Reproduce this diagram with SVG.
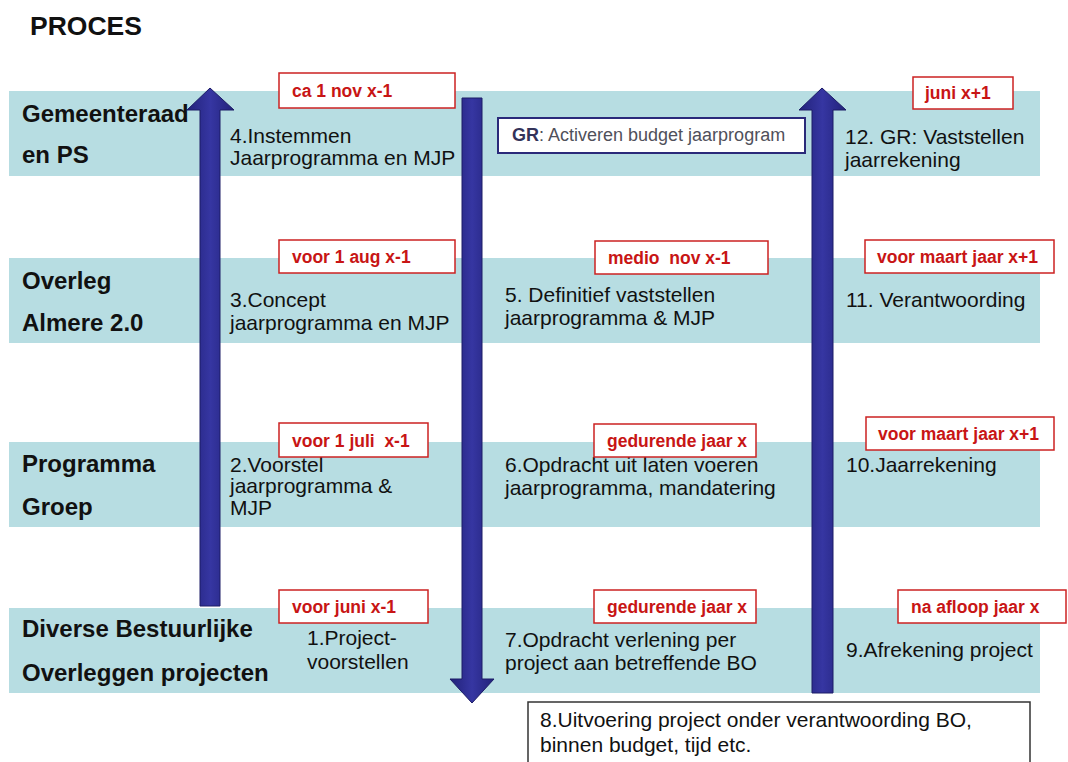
<svg xmlns="http://www.w3.org/2000/svg" width="1068" height="762" viewBox="0 0 1068 762">
<defs>
<linearGradient id="ag" x1="0" y1="0" x2="1" y2="0">
<stop offset="0" stop-color="#22227a"/>
<stop offset="0.5" stop-color="#3636a2"/>
<stop offset="1" stop-color="#22227a"/>
</linearGradient>
<style>
.band{fill:#b7dde2}
.lbl{font-family:"Liberation Sans",Arial,sans-serif;font-weight:bold;font-size:24px;fill:#111}
.txt{font-family:"Liberation Sans",Arial,sans-serif;font-size:21px;fill:#111}
.rbox{fill:#fff;stroke:#cc2222;stroke-width:1.5}
.rtxt{font-family:"Liberation Sans",Arial,sans-serif;font-weight:bold;font-size:17.5px;fill:#c81515;white-space:pre}
.arrow{fill:url(#ag);stroke:#1c1c66;stroke-width:1}
</style>
</defs>
<rect width="1068" height="762" fill="#fff"/>
<text x="30" y="35" font-family="Liberation Sans,Arial,sans-serif" font-weight="bold" font-size="26.5" fill="#111">PROCES</text>

<g id="bands">
<rect class="band" x="9" y="91" width="1031" height="85"/>
<rect class="band" x="9" y="258" width="1031" height="85"/>
<rect class="band" x="9" y="442" width="1031" height="85"/>
<rect class="band" x="9" y="608" width="1031" height="85"/>
</g>

<g id="lane-gemeenteraad"><text class="lbl" x="22" y="122">Gemeenteraad</text><text class="lbl" x="22" y="163">en PS</text></g>
<g id="lane-overleg"><text class="lbl" x="22" y="289">Overleg</text><text class="lbl" x="22" y="331">Almere 2.0</text></g>
<g id="lane-programma"><text class="lbl" x="22" y="472">Programma</text><text class="lbl" x="22" y="515">Groep</text></g>
<g id="lane-diverse"><text class="lbl" x="22" y="637">Diverse Bestuurlijke</text><text class="lbl" x="22" y="681">Overleggen projecten</text></g>

<g id="connectors">
<path class="arrow" d="M200,606 L200,110 L187,110 L210,88 L234,110 L220,110 L220,606 Z"/>
<path class="arrow" d="M462,98 L482,98 L482,679 L494,679 L472,703 L450,679 L462,679 Z"/>
<path class="arrow" d="M812,693 L812,110 L799,110 L822,88 L846,110 L833,110 L833,693 Z"/>
</g>

<g id="step1"><text class="txt" x="307" y="645">1.Project-</text><text class="txt" x="307" y="669">voorstellen</text></g>
<g id="step2"><text class="txt" x="230" y="472">2.Voorstel</text><text class="txt" x="230" y="493">jaarprogramma &amp;</text><text class="txt" x="230" y="515">MJP</text></g>
<g id="step3"><text class="txt" x="230" y="307">3.Concept</text><text class="txt" x="230" y="330">jaarprogramma en MJP</text></g>
<g id="step4"><text class="txt" x="230" y="143">4.Instemmen</text><text class="txt" x="230" y="165">Jaarprogramma en MJP</text></g>
<g id="step5"><text class="txt" x="505" y="302">5. Definitief vaststellen</text><text class="txt" x="505" y="325">jaarprogramma &amp; MJP</text></g>
<g id="step6"><text class="txt" x="505" y="472">6.Opdracht uit laten voeren</text><text class="txt" x="505" y="495">jaarprogramma, mandatering</text></g>
<g id="step7"><text class="txt" x="505" y="647">7.Opdracht verlening per</text><text class="txt" x="505" y="670">project aan betreffende BO</text></g>
<g id="step8"><rect x="528" y="702" width="502" height="80" fill="#fff" stroke="#333" stroke-width="1.5"/><text class="txt" x="540" y="727">8.Uitvoering project onder verantwoording BO,</text><text class="txt" x="540" y="752">binnen budget, tijd etc.</text></g>
<g id="step9"><text class="txt" x="846" y="657">9.Afrekening project</text></g>
<g id="step10"><text class="txt" x="846" y="472">10.Jaarrekening</text></g>
<g id="step11"><text class="txt" x="846" y="307">11. Verantwoording</text></g>
<g id="step12"><text class="txt" x="845" y="144">12. GR: Vaststellen</text><text class="txt" x="845" y="167">jaarrekening</text></g>

<g id="gr-box"><rect x="498" y="118" width="307" height="35" fill="#fff" stroke="#2a2a7a" stroke-width="2"/><text x="512" y="141" font-family="Liberation Sans,Arial,sans-serif" font-size="18" fill="#50505a"><tspan font-weight="bold" fill="#33335a">GR</tspan>: Activeren budget jaarprogram</text></g>

<g id="date-1"><rect class="rbox" x="279" y="73" width="176" height="35"/><text class="rtxt" x="292" y="97">ca 1 nov x-1</text></g>
<g id="date-2"><rect class="rbox" x="913" y="77" width="100" height="32"/><text class="rtxt" x="925" y="99">juni x+1</text></g>
<g id="date-3"><rect class="rbox" x="279" y="240" width="176" height="33"/><text class="rtxt" x="292" y="263">voor 1 aug x-1</text></g>
<g id="date-4"><rect class="rbox" x="595" y="241" width="173" height="33"/><text class="rtxt" x="608" y="264">medio  nov x-1</text></g>
<g id="date-5"><rect class="rbox" x="865" y="240" width="189" height="33"/><text class="rtxt" x="877" y="263">voor maart jaar x+1</text></g>
<g id="date-6"><rect class="rbox" x="279" y="423" width="149" height="34"/><text class="rtxt" x="292" y="447">voor 1 juli  x-1</text></g>
<g id="date-7"><rect class="rbox" x="594" y="424" width="162" height="33"/><text class="rtxt" x="607" y="447">gedurende jaar x</text></g>
<g id="date-8"><rect class="rbox" x="866" y="417" width="188" height="33"/><text class="rtxt" x="878" y="440">voor maart jaar x+1</text></g>
<g id="date-9"><rect class="rbox" x="279" y="590" width="149" height="33"/><text class="rtxt" x="292" y="613">voor juni x-1</text></g>
<g id="date-10"><rect class="rbox" x="594" y="590" width="162" height="33"/><text class="rtxt" x="607" y="613">gedurende jaar x</text></g>
<g id="date-11"><rect class="rbox" x="898" y="590" width="168" height="33"/><text class="rtxt" x="911" y="613">na afloop jaar x</text></g>
</svg>
